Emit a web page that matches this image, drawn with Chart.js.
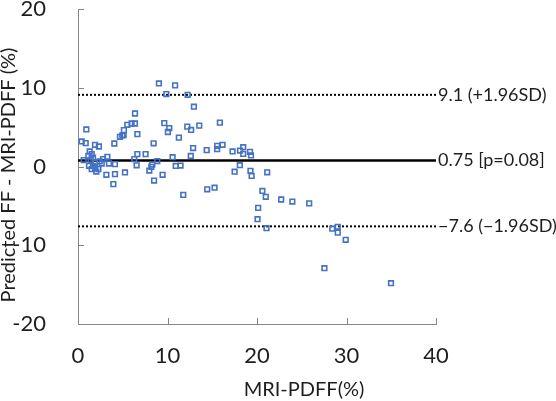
<!DOCTYPE html>
<html>
<head>
<meta charset="utf-8">
<script src="https://cdn.jsdelivr.net/npm/chart.js@4.4.1/dist/chart.umd.min.js"></script>
<style>
  html, body { margin: 0; padding: 0; background: #fff; }
  canvas { display: block; }
</style>
</head>
<body>
<canvas id="grafico" width="556" height="401"></canvas>
<script>
// Bland-Altman: x = MRI-PDFF, y = predicted FF - MRI-PDFF
const pdff = [
  0.41, 0.86, 0.93, 0.64, 1.31, 1.53, 1.16, 1.68, 1.42, 1.90,
  1.23, 1.68, 1.90, 2.28, 1.53, 2.05, 2.42, 2.79, 3.28, 2.65,
  3.46, 4.13, 3.17, 4.13, 5.25, 3.95, 1.90, 2.34, 4.06, 4.69,
  4.95, 5.10, 5.13, 5.51, 5.99, 6.36, 6.37, 6.63, 6.63, 7.55,
  6.29, 6.55, 8.86, 8.30, 8.19, 7.97, 9.45, 8.50, 8.45, 9.04,
  10.85, 9.87, 12.25, 12.95, 9.64, 10.20, 10.04, 12.21, 12.64, 13.55,
  11.27, 12.86, 14.38, 10.57, 12.60, 10.92, 11.46, 11.76, 14.44, 15.26,
  15.55, 15.55, 16.15, 15.85, 17.27, 18.10, 18.46, 18.46, 19.22, 19.33,
  18.08, 17.50, 19.27, 19.40, 21.14, 20.60, 20.98, 22.70, 23.95, 25.83,
  20.13, 20.06, 21.06, 28.41, 29.02, 29.02, 29.91, 27.53, 34.97
];
const diff = [
  3.18, 2.97, 4.70, 0.81, 1.91, 1.57, 1.36, 1.14, 0.81, 0.51,
  0.09, 0.09, -0.20, -0.33, -0.33, -0.64, 0.64, 0.94, 1.23, 0.38,
  0.38, 0.30, -1.05, -0.97, -0.76, -2.24, 2.76, 2.54, 2.92, 3.77,
  3.94, 3.99, 4.62, 5.30, 5.46, 5.46, 6.73, 4.11, 1.57, 1.57,
  0.94, 0.15, 0.69, 0.25, -0.05, -0.51, -1.05, -1.78, 2.95, 10.55,
  10.30, 9.20, 9.11, 7.59, 5.51, 4.88, 4.38, 5.06, 4.64, 5.19,
  3.67, 2.34, 2.08, 1.18, 1.34, 0.07, 0.12, -3.60, -2.90, -2.69,
  2.63, 2.21, 2.76, 5.57, 1.91, 2.03, 2.45, 1.60, 1.87, 1.40,
  0.16, -0.66, -0.55, -1.20, -0.74, -3.10, -3.85, -4.19, -4.45, -4.68,
  -5.25, -6.69, -7.83, -7.90, -7.66, -8.40, -9.31, -12.91, -14.82
];

const limites = [9.1, 0.75, -7.6];
const limiteLabels = ['9.1 (+1.96SD)', '0.75 [p=0.08]', '\u22127.6 (\u22121.96SD)'];
const xTicks = [0, 10, 20, 30, 40];
const yTicks = [-20, -10, 0, 10, 20];
const xTitulo = 'MRI-PDFF(%)';
const yTitulo = 'Predicted FF - MRI-PDFF (%)';

const FUENTE = 'Lato, "Open Sans", sans-serif';
const TEXTO = '#1e1e1e';
const EJE = '#868686';

const puntos = pdff.map((x, i) => ({ x, y: diff[i] }));
const linea = (v) => [{ x: 0, y: v }, { x: 40, y: v }];

// marcas hacia dentro, etiquetas de los limites y titulos
const extras = {
  id: 'extras',
  afterDraw(chart) {
    const { ctx, chartArea: a, scales: { x, y } } = chart;
    ctx.save();
    ctx.strokeStyle = EJE;
    ctx.lineWidth = 1;
    ctx.beginPath();
    xTicks.forEach(t => {
      const px = Math.round(x.getPixelForValue(t)) + 0.5;
      ctx.moveTo(px, a.bottom); ctx.lineTo(px, a.bottom - 6);
    });
    yTicks.forEach(t => {
      const py = Math.round(y.getPixelForValue(t)) + 0.5;
      ctx.moveTo(a.left, py); ctx.lineTo(a.left + 6, py);
    });
    ctx.stroke();

    ctx.fillStyle = TEXTO;
    ctx.font = `18px ${FUENTE}`;
    ctx.textAlign = 'left';
    ctx.textBaseline = 'middle';
    limites.forEach((v, i) => {
      ctx.fillText(limiteLabels[i], a.right + 2, y.getPixelForValue(v));
    });

    ctx.font = `20px ${FUENTE}`;
    ctx.textAlign = 'center';
    ctx.fillText(xTitulo, 304, 390);
    ctx.translate(9, 175);
    ctx.rotate(-Math.PI / 2);
    ctx.fillText(yTitulo, 0, 0);
    ctx.restore();
  }
};

new Chart(document.getElementById('grafico'), {
  type: 'scatter',
  data: {
    datasets: [
      {
        data: puntos,
        pointStyle: 'rect',
        pointRadius: 3.3,
        borderWidth: 1.6,
        borderColor: '#4472C4',
        backgroundColor: 'rgba(0,0,0,0)'
      },
      { data: linea(limites[0]), showLine: true, pointRadius: 0, borderColor: '#000', borderWidth: 2, borderDash: [2, 2] },
      { data: linea(limites[1]), showLine: true, pointRadius: 0, borderColor: '#000', borderWidth: 2.5 },
      { data: linea(limites[2]), showLine: true, pointRadius: 0, borderColor: '#000', borderWidth: 2, borderDash: [2, 2] }
    ]
  },
  options: {
    responsive: false,
    animation: false,
    layout: { padding: { top: 9, right: 120, left: 0, bottom: 0 } },
    plugins: { legend: { display: false }, tooltip: { enabled: false } },
    scales: {
      x: {
        type: 'linear', min: 0, max: 40,
        afterBuildTicks: (s) => { s.ticks = xTicks.map(v => ({ value: v })); },
        afterFit: (s) => { s.height = 77; s.paddingLeft = 0; s.paddingRight = 0; },
        grid: { display: false },
        border: { display: true, color: EJE, width: 1 },
        ticks: { color: TEXTO, font: { family: FUENTE, size: 22 }, padding: 11, maxRotation: 0 }
      },
      y: {
        type: 'linear', min: -20, max: 20,
        afterBuildTicks: (s) => { s.ticks = yTicks.map(v => ({ value: v })); },
        afterFit: (s) => { s.width = 78; s.paddingTop = 0; s.paddingBottom = 0; },
        grid: { display: false },
        border: { display: true, color: EJE, width: 1 },
        ticks: { color: TEXTO, font: { family: FUENTE, size: 22 }, padding: 24 }
      }
    }
  },
  plugins: [extras]
});
</script>
</body>
</html>
